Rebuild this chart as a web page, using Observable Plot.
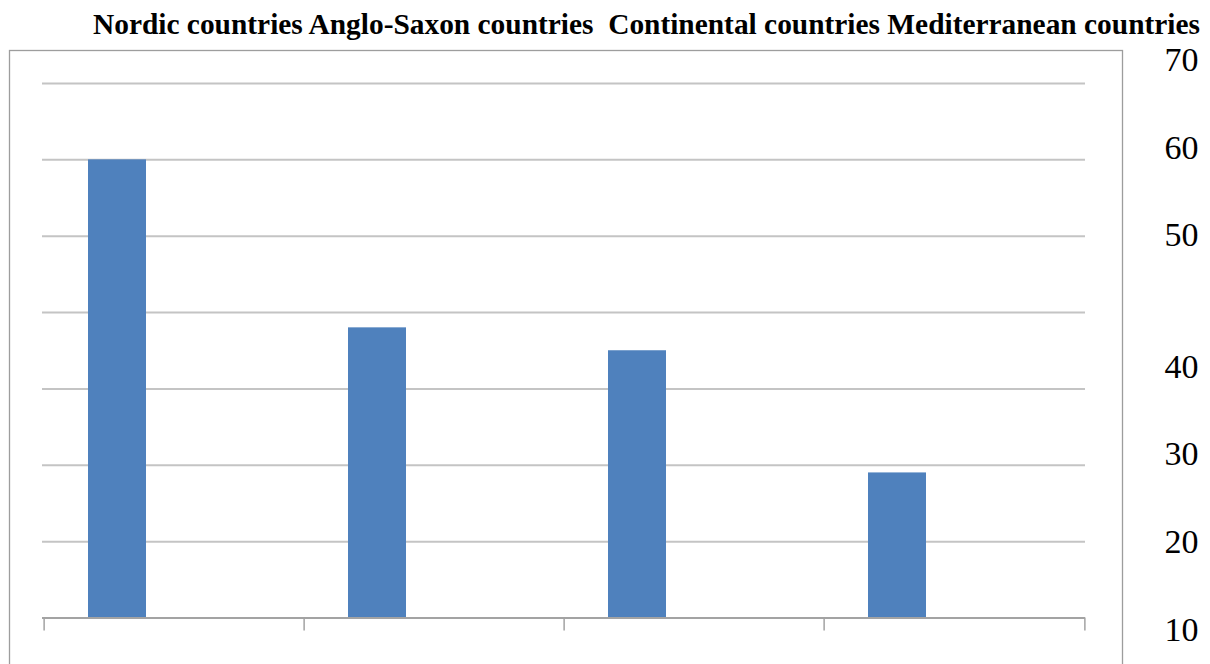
<!DOCTYPE html>
<html>
<head>
<meta charset="utf-8">
<script src="https://cdn.jsdelivr.net/npm/d3@7"></script>
<script src="https://cdn.jsdelivr.net/npm/@observablehq/plot@0.6"></script>
<style>
  body { margin: 0; background: #fff; }
  #chart { position: relative; width: 1210px; height: 664px; overflow: hidden; background: #fff; }
  #cats {
    position: absolute; left: 93px; top: 4px; height: 40px; line-height: 40px; z-index: 1;
    font-family: "Liberation Serif", "Times New Roman", serif;
    font-weight: bold; font-size: 29.4px;
    white-space: pre; color: #000;
  }
  #plot { position: absolute; left: 0; top: 40px; }
</style>
</head>
<body>
<div id="chart">
  <div id="cats"></div>
  <div id="plot"></div>
</div>
<script>
// Country groups and their values
const categories = ["Nordic countries", "Anglo-Saxon countries", "Continental countries", "Mediterranean countries"];
const values = [60, 38, 35, 19];

// Horizontal gridlines
const gridValues = [10, 20, 30, 40, 50, 60, 70];

// Right-hand labels and where they sit on the value scale
const tickLabels = ["70", "60", "50", "40", "30", "20", "10"];
const tickLabelAt = [73.0, 61.6, 50.2, 32.9, 21.4, 9.9, -1.6];

const data = categories.map((category, i) => ({category, value: values[i]}));

// Category names in a single line above the plot
document.getElementById("cats").textContent =
  categories.map((c, i) => (i === 2 ? " " + c : c)).join(" ");

const W = 1210, H = 624;
const mL = 42, mR = 125;
const bw = (W - mL - mR) / categories.length;
const axisGray = "#a3a3a3";

const chart = Plot.plot({
  width: W,
  height: H,
  marginLeft: mL,
  marginRight: mR,
  marginTop: 43,
  marginBottom: 46.5,
  style: {background: "transparent", overflow: "hidden"},
  x: {type: "band", domain: categories, padding: 0, axis: null},
  y: {domain: [0, 70], axis: null},
  marks: [
    Plot.frame({stroke: "#9d9d9d", strokeWidth: 1.3, insetLeft: -33, insetRight: -37, insetTop: -33, insetBottom: -80}),
    Plot.ruleY(gridValues, {y: d => d, stroke: "#c4c4c4", strokeWidth: 2}),
    Plot.barY(data, {x: "category", y: "value", fill: "#4f81bd", insetLeft: 44, insetRight: 158}),
    Plot.ruleY([0], {y: d => d, stroke: axisGray, strokeWidth: 2}),
    // category boundary ticks below the baseline
    Plot.ruleX(categories, {x: d => d, dx: -bw / 2, y1: 0, y2: 0, insetBottom: -13, stroke: axisGray, strokeWidth: 1.5}),
    Plot.ruleX(categories.slice(-1), {x: d => d, dx: bw / 2, y1: 0, y2: 0, insetBottom: -13, stroke: axisGray, strokeWidth: 1.5}),
    Plot.text(tickLabels, {
      text: d => d,
      y: (d, i) => tickLabelAt[i],
      frameAnchor: "right",
      textAnchor: "end",
      dx: 113,
      fontSize: 34,
      fontFamily: "Liberation Serif, Times New Roman, serif",
      fill: "#000"
    })
  ]
});
document.getElementById("plot").append(chart);
</script>
</body>
</html>
